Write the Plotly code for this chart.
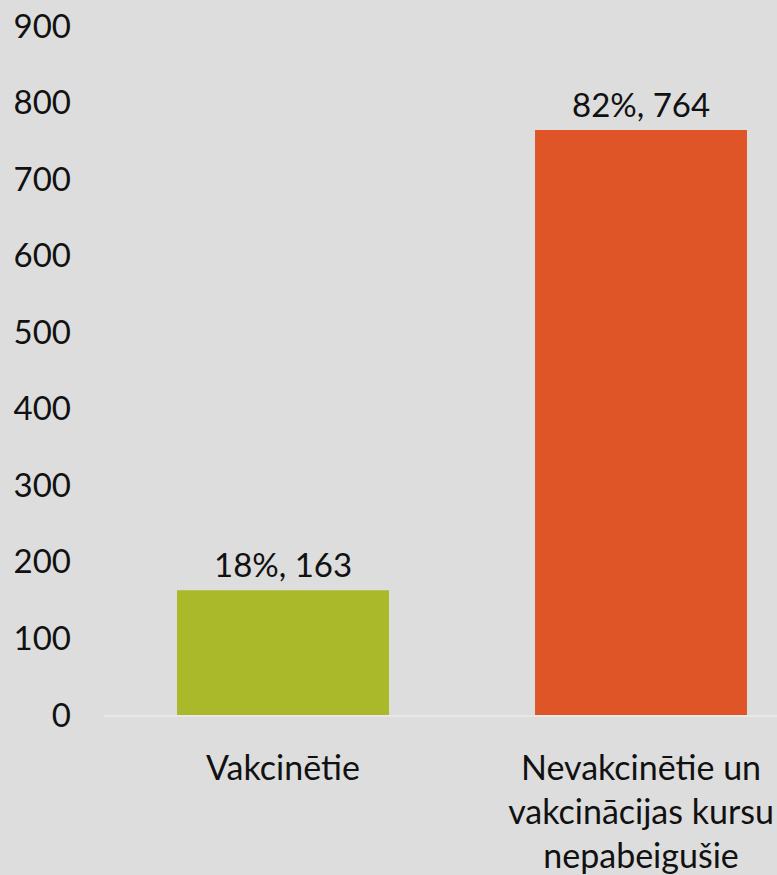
import plotly.graph_objects as go

categories = ["Vakcinētie", "Nevakcinētie un<br>vakcinācijas kursu<br>nepabeigušie"]
values = [163, 764]
percents = ["18%", "82%"]
colors = ["#a9b929", "#e05527"]
y_ticks = [0, 100, 200, 300, 400, 500, 600, 700, 800, 900]

FONT = "Lato, Carlito, Calibri, sans-serif"
FS = 34

fig = go.Figure()
fig.add_trace(go.Bar(
    x=[0, 1], y=values, marker=dict(color=colors, line=dict(width=0)),
    width=0.592, hoverinfo="skip",
))
for i, (v, p) in enumerate(zip(values, percents)):
    fig.add_annotation(x=i, y=v, text=f"{p}, {v}", showarrow=False,
                       yanchor="bottom", yshift=4,
                       font=dict(family=FONT, size=33, color="#111111"))

fig.update_layout(
    width=777, height=875,
    paper_bgcolor="#dddddd", plot_bgcolor="#dddddd",
    margin=dict(l=104, r=0, t=26, b=160, autoexpand=False),
    showlegend=False,
    font=dict(family=FONT, size=FS, color="#111111"),
    xaxis=dict(
        tickmode="array", tickvals=[0, 1], ticktext=categories,
        range=[-0.5, -0.5 + 673 / 358], showgrid=False, zeroline=False,
        showline=True, linecolor="#e8e8e8", linewidth=2,
        ticks="", ticklabelstandoff=22, ticklabeloverflow="allow",
        automargin=False, fixedrange=True,
    ),
    yaxis=dict(
        range=[0, 900], tickvals=y_ticks, showgrid=False, zeroline=False,
        showline=False, ticks="", ticklabelstandoff=32, automargin=False,
        tickfont=dict(size=33),
    ),
)
fig.write_html(
    "out.html",
    config={"displayModeBar": False},
    post_script="document.body.style.margin='0';document.body.style.overflow='hidden';document.body.style.background='#dddddd';",
)
